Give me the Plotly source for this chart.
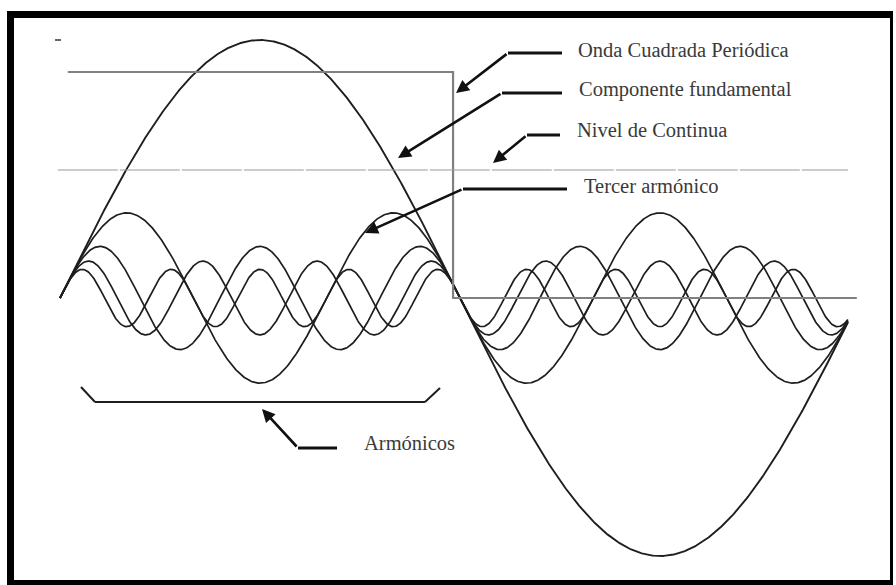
import numpy as np
import plotly.graph_objects as go

# ---- data ----
harmonic_orders = [1, 3, 5, 7, 9]               # fundamental + odd harmonics
harmonic_amps = [1.0, 0.33, 0.20, 0.143, 0.111]  # relative amplitudes
theta_end_deg = 354.6                            # curves stop just before a full period
square_x = [3.5, 176.9, 176.9, 358.6]            # square wave corners (deg)
square_y = [0.876, 0.876, 0.0, 0.0]
dc_level = 0.496                                  # "Nivel de Continua"
dc_x = [-1.0, 354.6]

labels = ["Onda Cuadrada Periódica", "Componente fundamental",
          "Nivel de Continua", "Tercer armónico", "Armónicos"]

W, H = 896, 585
X0, PXDEG = 60.0, 2.222        # pixel of 0 deg, pixels per degree
Y0, PXAMP = 298.0, 258.0       # pixel of zero level, pixels per unit amplitude


def px(x):
    return x / W


def py(y):
    return 1 - y / H


fig = go.Figure()

theta = np.linspace(0, theta_end_deg, 900)
for n, a in zip(harmonic_orders, harmonic_amps):
    fig.add_trace(go.Scatter(x=theta, y=a * np.sin(np.radians(n * theta)),
                             mode="lines",
                             line=dict(color="#1e1e1e", width=1.9 if n == 1 else 1.7),
                             hoverinfo="skip"))

fig.add_trace(go.Scatter(x=square_x, y=square_y, mode="lines",
                         line=dict(color="#808080", width=2.2), hoverinfo="skip"))
fig.add_trace(go.Scatter(x=dc_x, y=[dc_level, dc_level], mode="lines",
                         line=dict(color="#9a9a9a", width=1.1, dash="60px,2px"),
                         hoverinfo="skip"))

shapes = []
# frame
for (x0, y0, x1, y1) in [(7, 11, 893, 18), (7, 11, 14, 585), (7, 580, 893, 585), (890, 11, 893, 585)]:
    shapes.append(dict(type="rect", xref="paper", yref="paper",
                       x0=px(x0), x1=px(x1), y0=py(y1), y1=py(y0),
                       fillcolor="black", line=dict(width=0)))

# bracket under the harmonics
for (xa, ya, xb, yb) in [(95, 402, 425, 402), (95, 402, 81, 387), (425, 402, 440, 388)]:
    shapes.append(dict(type="line", xref="paper", yref="paper",
                       x0=px(xa), y0=py(ya), x1=px(xb), y1=py(yb),
                       line=dict(color="#1e1e1e", width=2)))

# small dash top-left
shapes.append(dict(type="line", xref="paper", yref="paper",
                   x0=px(55), y0=py(40), x1=px(61), y1=py(40),
                   line=dict(color="#333", width=1.5)))

# arrows: (head, tail, horizontal end)
arrows = [((456, 93), (508, 53), 562),
          ((398, 158), (502, 93), 562),
          ((493, 163), (527, 135), 560),
          ((365, 233), (463, 189), 567),
          ((262, 409), (298, 448), 337)]

annotations = []
for (hx, hy), (tx, ty), ex in arrows:
    shapes.append(dict(type="line", xref="paper", yref="paper",
                       x0=px(tx), y0=py(ty), x1=px(ex), y1=py(ty),
                       line=dict(color="#111", width=3)))
    annotations.append(dict(x=px(hx), y=py(hy), xref="paper", yref="paper",
                            ax=tx - hx, ay=ty - hy, showarrow=True,
                            arrowhead=2, arrowsize=1.0, arrowwidth=2.6,
                            arrowcolor="#111", text=""))

text_pos = [(576, 50), (577, 89), (575, 130), (582, 186), (362, 443)]
for lab, (tx, ty) in zip(labels, text_pos):
    annotations.append(dict(x=px(tx), y=py(ty), xref="paper", yref="paper",
                            text=lab, showarrow=False, xanchor="left", yanchor="middle",
                            font=dict(family="Liberation Serif", size=20.5, color="#3a3a3a")))

fig.update_layout(
    width=W, height=H,
    margin=dict(l=0, r=0, t=0, b=0),
    paper_bgcolor="white", plot_bgcolor="white",
    showlegend=False,
    xaxis=dict(visible=False, range=[-X0 / PXDEG, (W - X0) / PXDEG]),
    yaxis=dict(visible=False, range=[(Y0 - H) / PXAMP, Y0 / PXAMP]),
    shapes=shapes, annotations=annotations,
)

fig.write_html("out.html", config={"displayModeBar": False},
               post_script="document.body.style.margin='0';document.body.style.overflow='hidden';")
